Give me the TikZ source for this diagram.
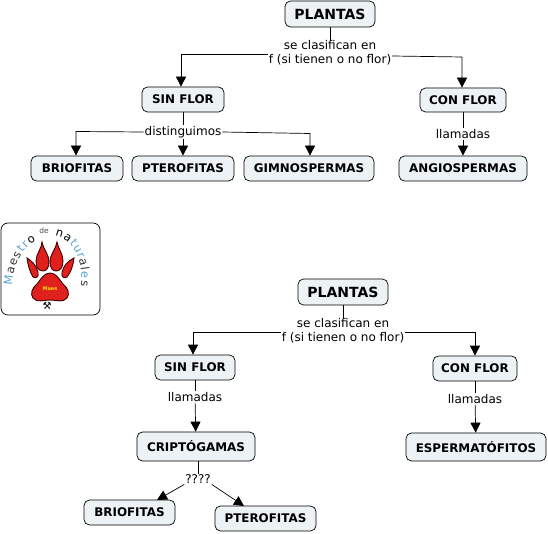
\documentclass[tikz,border=0pt]{standalone}
\usepackage{fontspec}
\setmainfont{DejaVu Sans}
\usetikzlibrary{arrows.meta,decorations.text,calc}
\definecolor{boxfill}{HTML}{EDF3F4}
\definecolor{logoblue}{HTML}{5AA5D6}
\definecolor{pawred}{HTML}{E0201C}
\tikzset{
 x=1pt,y=-1pt,
 concept/.style={draw=black,fill=boxfill,rounded corners=5.5pt,line width=0.7pt,inner sep=0pt,font=\fontsize{11.9}{13}\selectfont\bfseries,align=center},
 big/.style={concept,font=\fontsize{14}{15}\selectfont\bfseries},
 linklabel/.style={font=\fontsize{12}{14}\selectfont,align=center,inner sep=0.8pt,fill=white,text=black},
 link/.style={draw=black,line width=0.7pt},
 arrow/.style={link,-{Triangle[length=10pt,width=10pt]}},
 toe/.style={fill=pawred,draw=black!75!red,line width=0.9pt},
}
\newcommand{\cbox}[6][concept]{\node[#1,minimum width=#4pt,minimum height=#5pt] (#2) at (#3) {#6};}
\newcommand{\lgf}{\fontsize{11.5}{12}\selectfont}
\begin{document}
\begin{tikzpicture}
\useasboundingbox (0,0) rectangle (548,534);
% --- upper map
\cbox[big]{pa}{330,14}{90}{26}{PLANTAS}
\cbox{sa}{183,99.5}{82}{25}{SIN FLOR}
\cbox{ca}{463,100}{86}{24}{CON FLOR}
\cbox{ba}{77,168.5}{92}{25}{BRIOFITAS}
\cbox{pta}{183,168.5}{102}{25}{PTEROFITAS}
\cbox{ga}{309,168.5}{130}{25}{GIMNOSPERMAS}
\cbox{aa}{463,168.5}{128}{25}{ANGIOSPERMAS}
\node[linklabel] (la) at (330,53) {se clasifican en\\f (si tienen o no flor)};
\node[linklabel] (lb) at (183,132) {distinguimos};
\node[linklabel] (lc) at (463,134) {llamadas};
\draw[link] (pa) -- (la);
\draw[arrow] (la.west |- 0,54.5) -- (181,54.5) -- (sa.north -| 181,0);
\draw[arrow] (la.east |- 0,56) -- (462,57) -- (ca.north -| 462,0);
\draw[link] (sa) -- (lb);
\draw[arrow] (lb) -- (pta);
\draw[arrow] (lb.west) -- (76,131.5) -- (ba.north -| 76,0);
\draw[arrow] (lb.east) -- (310,133.5) -- (ga.north -| 310,0);
\draw[link] (ca) -- (lc);
\draw[arrow] (lc) -- (aa);
% --- lower map
\cbox[big]{pb}{343,292}{90}{26}{PLANTAS}
\cbox{sb}{195,367.5}{80}{25}{SIN FLOR}
\cbox{cb}{475,368.5}{84}{25}{CON FLOR}
\cbox{cr}{196,446.5}{118}{29}{CRIPTÓGAMAS}
\cbox{es}{476,447}{140}{28}{ESPERMATÓFITOS}
\cbox{bb}{129.5,512.5}{91}{25}{BRIOFITAS}
\cbox{ptb}{265.5,518.5}{101}{25}{PTEROFITAS}
\node[linklabel] (ld) at (343,331) {se clasifican en\\f (si tienen o no flor)};
\node[linklabel] (le) at (195,397) {llamadas};
\node[linklabel] (lf) at (475,399) {llamadas};
\node[linklabel] (lg) at (198,479) {????};
\draw[link] (pb) -- (ld);
\draw[arrow] (ld.west |- 0,332) -- (193,332) -- (sb.north -| 193,0);
\draw[arrow] (ld.east |- 0,332) -- (475,332) -- (cb.north -| 475,0);
\draw[link] (sb) -- (le);
\draw[arrow] (le) -- (cr);
\draw[link] (cb) -- (lf);
\draw[arrow] (lf) -- (es);
\draw[link] (cr.south -| 198,0) -- (lg);
\draw[arrow] (lg.south west) -- (157,500);
\draw[arrow] (lg.south east) -- (244,506);
% --- logo
\draw[line width=0.7pt,rounded corners=7pt,fill=white] (1,223) rectangle (100,315);
\path[toe] (27,258) .. controls (28,266) and (30,272) .. (33,277) .. controls (36,279) and (39,277) .. (38,272) .. controls (36,265) and (32,261) .. (27,258) -- cycle;
\path[toe] (42,242) .. controls (42,248) and (36,254) .. (36,261) .. controls (36,268) and (39,271) .. (43,271) .. controls (47,271) and (49,267) .. (49,262) .. controls (49,254) and (43,249) .. (42,242) -- cycle;
\path[toe] (57,242) .. controls (56,249) and (50,254) .. (50,262) .. controls (50,267) and (52,271) .. (56,271) .. controls (60,271) and (63,268) .. (63,261) .. controls (63,254) and (58,248) .. (57,242) -- cycle;
\path[toe] (74,258) .. controls (68,261) and (64,265) .. (62,272) .. controls (61,277) and (64,279) .. (67,277) .. controls (71,272) and (73,266) .. (74,258) -- cycle;
\path[toe] (50,273) .. controls (44,273) and (41,279) .. (37,284) .. controls (32,288) and (30,294) .. (33,298) .. controls (37,303) and (44,300) .. (50,300) .. controls (56,300) and (63,303) .. (67,298) .. controls (70,294) and (68,288) .. (63,284) .. controls (59,279) and (56,273) .. (50,273) -- cycle;
\node[font=\fontsize{5}{5}\selectfont\bfseries,text=yellow!80!orange,inner sep=0pt] (paw) at (50,289) {Maes};
\node[font=\fontsize{10}{10}\selectfont,inner sep=0pt] (pick) at (47,306) {⚒};
\node[font=\fontsize{7.5}{8}\selectfont,text=black!70,inner sep=0pt] (de) at (44,231) {de};
\path[decorate,decoration={text along path,text={|\lgf\color{logoblue}|M|\lgf\color{black!80}|aes|\lgf\color{logoblue}|tr|\lgf\color{black}|o},text align={fit to path}}]
  (12,286) .. controls (13,268) and (20,250) .. (36,240);
\path[decorate,decoration={text along path,text={|\lgf\color{black}|na|\lgf\color{logoblue}|tur|\lgf\color{black!80}|al|\lgf\color{logoblue}|e|\lgf\color{black!80}|s},text align={fit to path}}]
  (55,236) .. controls (70,238) and (84,256) .. (81,286);
\end{tikzpicture}
\end{document}
